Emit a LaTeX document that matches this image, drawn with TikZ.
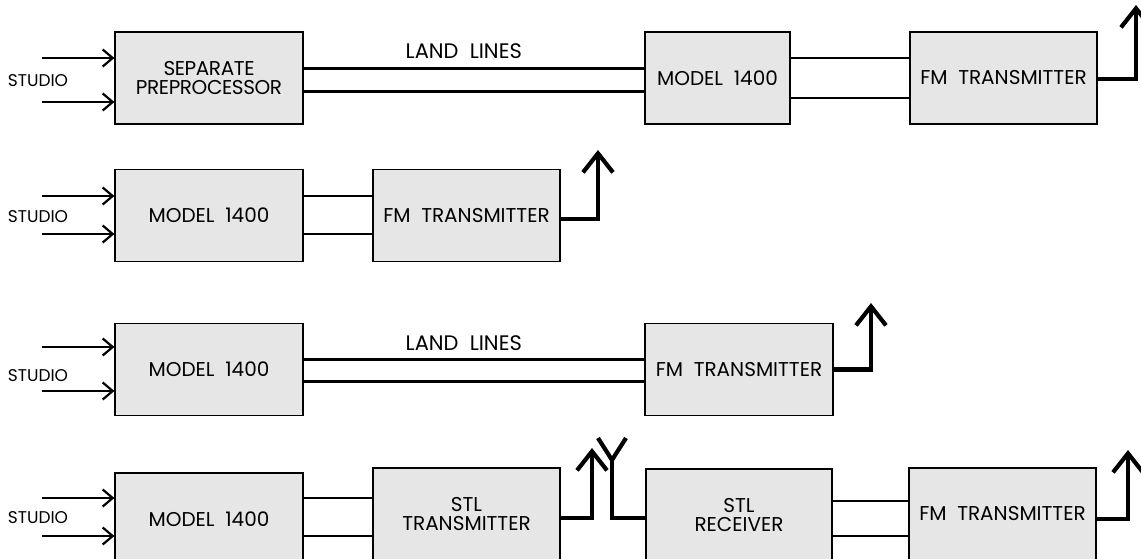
\documentclass[tikz,border=0pt]{standalone}
\usepackage{fontspec}
\setmainfont{Poppins}
\usetikzlibrary{arrows.meta,positioning}
\definecolor{boxgray}{HTML}{E6E6E6}

\begin{document}
\begin{tikzpicture}[x=1pt, y=-1pt,
    unit/.style={draw=black, line width=1.2pt, fill=boxgray, align=center,
                 minimum width=188pt, minimum height=92pt, inner sep=0pt,
                 font=\fontsize{20}{19}\selectfont},
    feed/.style={-{Straight Barb[length=10pt,width=17pt]}, line width=2.2pt},
    wire/.style={line width=2.2pt},
    land/.style={line width=3pt},
    aerial/.style={line width=4.2pt},
    beam/.style={aerial, -{Straight Barb[length=19pt,width=30pt]}},
    studio/.style={font=\fontsize{17}{17}\selectfont},
    tag/.style={font=\fontsize{21}{19}\selectfont, inner sep=0pt}]
  \useasboundingbox (0,0) rectangle (1141,559);

  % row 1
  \node[unit, font=\fontsize{20}{19}\selectfont\addfontfeature{LetterSpace=-2}]
    (pre1) at (209,78) {SEPARATE\\PREPROCESSOR};
  \node[unit, minimum width=145pt] (mod1) at (717.5,78) {MODEL~~1400};
  \node[unit, minimum width=187pt] (fmt1) at (1003.5,78) {FM~~TRANSMITTER};
  \node[studio] (stu1) at (38,81) {STUDIO};
  \coordinate (in1a) at (42,58);
  \coordinate (in1b) at (42,102);
  \coordinate (ant1) at (1136,5);
  \draw[feed] (in1a) -- (in1a -| pre1.west);
  \draw[feed] (in1b) -- (in1b -| pre1.west);
  \draw[land] ([yshift=9pt]pre1.east) -- ([yshift=9pt]mod1.west)
    node[tag, pos=0.47, above=9pt] (lnd1) {LAND~~LINES};
  \draw[land] ([yshift=-14pt]pre1.east) -- ([yshift=-14pt]mod1.west);
  \draw[wire] ([yshift=20pt]mod1.east) -- ([yshift=20pt]fmt1.west);
  \draw[wire] ([yshift=-20pt]mod1.east) -- ([yshift=-20pt]fmt1.west);
  \draw[beam] ([yshift=-1pt]fmt1.east) -| (ant1);

  % row 2
  \node[unit] (mod2) at (209,215.5) {MODEL~~1400};
  \node[unit, minimum width=187pt] (fmt2) at (466.5,215.5) {FM~~TRANSMITTER};
  \node[studio] (stu2) at (38,217) {STUDIO};
  \coordinate (in2a) at (42,196);
  \coordinate (in2b) at (42,234);
  \coordinate (ant2) at (598,150);
  \draw[feed] (in2a) -- (in2a -| mod2.west);
  \draw[feed] (in2b) -- (in2b -| mod2.west);
  \draw[wire] ([yshift=19.5pt]mod2.east) -- ([yshift=19.5pt]fmt2.west);
  \draw[wire] ([yshift=-18.5pt]mod2.east) -- ([yshift=-18.5pt]fmt2.west);
  \draw[beam] ([yshift=-3.5pt]fmt2.east) -| (ant2);

  % row 3
  \node[unit] (mod3) at (209,369.5) {MODEL~~1400};
  \node[unit] (fmt3) at (739,369.5) {FM~~TRANSMITTER};
  \node[studio] (stu3) at (38,376) {STUDIO};
  \coordinate (in3a) at (42,347);
  \coordinate (in3b) at (42,391);
  \coordinate (ant3) at (871,303);
  \draw[feed] (in3a) -- (in3a -| mod3.west);
  \draw[feed] (in3b) -- (in3b -| mod3.west);
  \draw[land] ([yshift=10.5pt]mod3.east) -- ([yshift=10.5pt]fmt3.west)
    node[tag, pos=0.47, above=7pt] (lnd3) {LAND~~LINES};
  \draw[land] ([yshift=-11.5pt]mod3.east) -- ([yshift=-11.5pt]fmt3.west);
  \draw[beam] (fmt3.east) -| (ant3);

  % row 4
  \node[unit] (mod4) at (209,519) {MODEL~~1400};
  \node[unit, minimum width=187pt] (stl4) at (466.5,514) {STL\\TRANSMITTER};
  \node[unit, minimum width=186pt] (rcv4) at (739,515) {STL\\RECEIVER};
  \node[unit, minimum width=187pt] (fmt4) at (1002.5,514) {FM~~TRANSMITTER};
  \node[studio] (stu4) at (38,518) {STUDIO};
  \coordinate (in4a) at (42,498);
  \coordinate (in4b) at (42,536);
  \coordinate (ant4) at (592,448);
  \coordinate (rx4) at (612,460);
  \coordinate (rxl) at (598,438);
  \coordinate (rxr) at (626,438);
  \coordinate (ant5) at (1128,450);
  \draw[feed] (in4a) -- (in4a -| mod4.west);
  \draw[feed] (in4b) -- (in4b -| mod4.west);
  \draw[wire] ([yshift=21pt]mod4.east) -- ([yshift=16pt]stl4.west);
  \draw[wire] ([yshift=-17pt]mod4.east) -- ([yshift=-22pt]stl4.west);
  \draw[beam] ([yshift=-4pt]stl4.east) -| (ant4);
  \draw[aerial] ([yshift=-3pt]rcv4.west) -| (rx4);
  \draw[aerial, line join=bevel] (rxl) -- (rx4) -- (rxr);
  \draw[wire] ([yshift=14pt]rcv4.east) -- ([yshift=13pt]fmt4.west);
  \draw[wire] ([yshift=-21pt]rcv4.east) -- ([yshift=-22pt]fmt4.west);
  \draw[beam] ([yshift=-5pt]fmt4.east) -| (ant5);
\end{tikzpicture}
\end{document}
